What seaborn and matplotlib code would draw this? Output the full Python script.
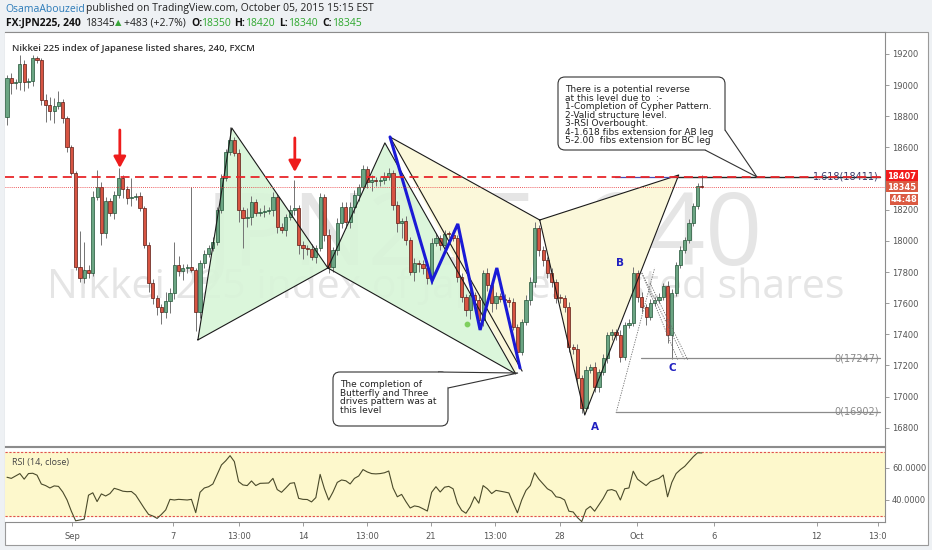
import numpy as np
import pandas as pd
import matplotlib
matplotlib.use("Agg")
import matplotlib.pyplot as plt
import seaborn as sns
from matplotlib.patches import FancyBboxPatch, Polygon, Rectangle

sns.set_theme(style="white")
plt.rcParams['font.family'] = ['DejaVu Sans']

W, H = 932, 550

# 4h candles, Aug 27 - Oct 5 2015
FIRST_OPEN = 18796
closes = [
    19046, 19014, 19020, 19136, 19020, 19027, 19174, 19161, 18905, 18873,
    18834, 18866, 18892, 18789, 18603, 18436, 17833, 17762, 17813, 17794,
    18282, 18346, 18051, 18256, 18179, 18295, 18404, 18333, 18276, 18280,
    18290, 18211, 17974, 17730, 17634, 17576, 17544, 17614, 17666, 17845,
    17807, 17826, 17833, 17813, 17544, 17858, 17916, 17955, 17993, 18198,
    18404, 18571, 18648, 18564, 18198, 18147, 18154, 18250, 18179, 18186,
    18192, 18200, 18282, 18089, 18070, 18154, 18198, 18211, 17974, 17955,
    17948, 17897, 17955, 18282, 18038, 17833, 17942, 18115, 18218, 18121,
    18218, 18295, 18346, 18462, 18378, 18391, 18385, 18388, 18410, 18436,
    18231, 18115, 18128, 18006, 17800, 17858, 17850, 17826, 17762, 17987,
    18019, 17974, 18044, 18040, 18019, 17768, 17640, 17557, 17653, 17621,
    17492, 17794, 17717, 17601, 17646, 17627, 17621, 17608, 17447, 17287,
    17479, 17621, 17736, 18083, 17942, 17878, 17794, 17736, 17634, 17630,
    17576, 17319, 17306, 17120, 16927, 17171, 17190, 17062, 17158, 17248,
    17396, 17412, 17396, 17255, 17460, 17473, 17794, 17640, 17576, 17512,
    17601, 17621, 17640, 17711, 17396, 17666, 17845, 17942, 18006, 18115,
    18224, 18350, 18345,
]
wick_up = [
    20, 30, 20, 60, 25, 20, 20, 15, 15, 40,
    50, 50, 70, 20, 15, 10, 10, 230, 180, 30,
    40, 110, 30, 25, 20, 25, 65, 20, 20, 124,
    20, 25, 10, 20, 25, 20, 20, 60, 30, 150,
    60, 25, 20, 510, 10, 20, 25, 20, 30, 20,
    25, 20, 80, 20, 25, 20, 60, 40, 20, 25,
    40, 20, 30, 20, 25, 20, 30, 180, 20, 25,
    20, 30, 20, 25, 20, 35, 20, 30, 30, 30,
    30, 30, 20, 25, 20, 30, 20, 25, 30, 30,
    20, 25, 20, 30, 20, 35, 20, 25, 20, 30,
    30, 20, 25, 20, 30, 20, 25, 20, 40, 20,
    25, 20, 30, 20, 25, 20, 30, 20, 25, 20,
    20, 30, 30, 40, 20, 25, 20, 30, 20, 25,
    20, 30, 20, 30, 20, 25, 20, 30, 20, 25,
    20, 25, 20, 30, 20, 25, 40, 20, 30, 20,
    25, 20, 25, 20, 30, 25, 20, 25, 20, 25,
    20, 20, 70,
]
wick_dn = [
    50, 70, 40, 50, 60, 40, 30, 20, 30, 110,
    60, 80, 20, 30, 30, 15, 20, 25, 30, 30,
    20, 20, 75, 30, 20, 40, 20, 60, 40, 50,
    20, 20, 20, 60, 40, 50, 80, 40, 80, 40,
    30, 60, 30, 10, 120, 40, 30, 20, 20, 20,
    20, 20, 20, 20, 80, 190, 60, 50, 20, 20,
    30, 20, 40, 40, 20, 40, 20, 30, 60, 70,
    40, 20, 40, 20, 40, 40, 30, 30, 30, 40,
    40, 40, 40, 20, 40, 60, 30, 30, 20, 20,
    30, 60, 96, 30, 20, 60, 50, 40, 40, 40,
    20, 30, 40, 20, 20, 30, 30, 40, 60, 30,
    40, 40, 40, 60, 40, 20, 20, 30, 20, 70,
    20, 20, 30, 30, 40, 40, 30, 30, 30, 30,
    30, 30, 30, 30, 30, 20, 20, 30, 30, 20,
    30, 30, 30, 30, 20, 20, 20, 30, 30, 50,
    20, 20, 20, 20, 50, 154, 20, 20, 20, 20,
    20, 20, 5,
]
rsi = [
    54.2, 53.5, 55.0, 56.5, 53.0, 56.5, 56.7, 55.5, 50.0, 49.0,
    47.5, 48.8, 48.5, 45.0, 40.0, 33.0, 27.0, 27.5, 28.0, 43.0,
    44.5, 39.0, 43.8, 42.5, 44.0, 47.3, 46.5, 45.5, 45.2, 45.3,
    43.1, 39.0, 34.8, 31.0, 30.0, 28.5, 31.0, 33.8, 40.4, 40.0,
    40.4, 40.2, 40.0, 40.4, 32.1, 44.8, 47.5, 48.3, 50.0, 56.0,
    61.9, 64.5, 67.7, 64.0, 51.5, 49.4, 49.0, 51.9, 49.0, 50.4,
    50.5, 50.6, 53.5, 46.5, 44.8, 47.5, 50.4, 50.8, 41.0, 40.4,
    40.3, 38.8, 41.5, 56.0, 47.0, 40.0, 45.0, 51.0, 52.5, 52.0,
    50.0, 53.5, 55.0, 59.0, 57.5, 56.5, 56.3, 56.5, 57.0, 58.1,
    47.5, 42.0, 43.5, 39.0, 35.0, 36.3, 35.8, 34.5, 33.1, 44.8,
    48.3, 45.0, 48.0, 48.5, 47.0, 38.0, 33.5, 31.7, 35.8, 42.0,
    38.0, 49.0, 47.0, 44.0, 46.0, 45.5, 45.0, 44.4, 38.0, 32.0,
    40.0, 46.0, 49.0, 57.0, 53.0, 50.0, 47.0, 45.5, 42.0, 41.5,
    40.0, 33.0, 32.5, 29.0, 26.5, 34.0, 36.0, 33.0, 37.0, 41.0,
    46.0, 46.5, 45.5, 40.0, 47.0, 47.5, 58.0, 53.0, 51.0, 49.0,
    51.5, 52.5, 53.5, 55.6, 42.0, 51.0, 56.5, 59.0, 61.0, 64.0,
    67.0, 69.5, 69.4,
]

time_ticks = [15.2, 38.7, 54.0, 69.0, 83.9, 98.8, 113.7, 128.9, 146.9, 164.8, 188.8, 203.0]
time_labels = ["Sep", "7", "13:00", "14", "13:00", "21", "13:00", "28", "Oct", "6", "12", "13:0"]
# 18400 sits under the price tags, so it is left out
price_ticks = [16800, 17000, 17200, 17400, 17600, 17800, 18000, 18200, 18600, 18800, 19000, 19200]

# drawn pattern points (bar index, price)
bfly_i = [44.5, 52.4, 74.8, 88.1, 118.6]
bfly_p = [17364, 18725, 17826, 18629, 17146]
drives_i = [89.3, 99.1, 105.1, 110.3, 114.2, 119.6]
drives_p = [18667, 17743, 18109, 17428, 17826, 17184]
cypher_i = [124.2, 156.6, 134.7]
cypher_p = [18134, 18423, 16882]
RES_LEVEL = 18407
LAST_CLOSE = 18345

assert len(closes) == len(wick_up) == len(wick_dn) == len(rsi)

idx = np.arange(len(closes))
df = pd.DataFrame({"i": idx, "open": [FIRST_OPEN] + closes[:-1], "close": closes,
                   "up": wick_up, "dn": wick_dn, "rsi": rsi})
df["high"] = df[["open", "close"]].max(axis=1) + df["up"]
df["low"] = df[["open", "close"]].min(axis=1) - df["dn"]
rising = df["close"] >= df["open"]

fig = plt.figure(figsize=(W / 100, H / 100), dpi=100)
fig.patch.set_facecolor("#eef1f4")


def fx(x):
    return x / W


def fy(y):
    return 1 - y / H


def inch(x, y):
    return (x / 100.0, (H - y) / 100.0)


# outer frame
fig.add_artist(Rectangle((fx(5), fy(545)), fx(923), 513 / H, transform=fig.transFigure,
                         facecolor="white", edgecolor="#9a9a9a", lw=0.8, zorder=-1))

ax = fig.add_axes([fx(5), fy(446), fx(880), 414 / H])
ax_r = fig.add_axes([fx(5), fy(522), fx(880), 75 / H])
XMIN, XMAX = -0.47, 204.7
ax.set_xlim(XMIN, XMAX)
ax.set_ylim(16683, 19341)
ax_r.set_xlim(XMIN, XMAX)
ax_r.set_ylim(26.25, 73.1)

for a in (ax, ax_r):
    a.set_facecolor("white")
    for s in a.spines.values():
        s.set_color("#8c8c8c")
        s.set_linewidth(0.8)
    a.spines["left"].set_visible(False)

# watermark
ax.text(0.5455, 0.50, "JPN225, 240", transform=ax.transAxes, ha="center", va="center",
        fontsize=72, color="#dadada", alpha=0.7, family="Open Sans", zorder=0)
ax.text(0.501, 0.382, "Nikkei 225 index of Japanese listed shares", transform=ax.transAxes,
        ha="center", va="center", fontsize=29.5, color="#dadada", alpha=0.7,
        family="Open Sans", zorder=0)

# pattern fills
green = "#d8f5d8"
yellow = "#fbf8da"
ax.add_patch(Polygon(list(zip(bfly_i[:3], bfly_p[:3])), closed=True, facecolor=green, edgecolor="none", zorder=1, alpha=0.9))
ax.add_patch(Polygon(list(zip(bfly_i[2:], bfly_p[2:])), closed=True, facecolor=green, edgecolor="none", zorder=1, alpha=0.9))
ax.add_patch(Polygon([(drives_i[0], drives_p[0]), (cypher_i[0], cypher_p[0]), (bfly_i[4], bfly_p[4])],
                     closed=True, facecolor=yellow, edgecolor="none", zorder=1))
ax.add_patch(Polygon(list(zip(cypher_i, cypher_p)), closed=True, facecolor=yellow, edgecolor="none", zorder=1))

# candles
ax.vlines(df["i"], df["low"], df["high"], color="#737373", lw=0.7, zorder=3)
body = (df["close"] - df["open"]).where((df["close"] - df["open"]).abs() >= 5, 5)
ax.bar(df["i"], body, bottom=df["open"], width=0.74,
       color=np.where(rising, "#6ba583", "#d75442"),
       edgecolor=np.where(rising, "#225437", "#5b1a13"), linewidth=0.5, zorder=4)

# pattern outlines
lk = dict(color="#1a1a1a", lw=0.8, zorder=5)
ax.plot(bfly_i[:3] + [bfly_i[0]], bfly_p[:3] + [bfly_p[0]], **lk)
ax.plot(bfly_i[2:] + [bfly_i[2]], bfly_p[2:] + [bfly_p[2]], **lk)
ax.plot([drives_i[0], drives_i[-1] + 0.5], [drives_p[0], drives_p[-1] - 20], **lk)
ax.plot([drives_i[0], cypher_i[0]], [drives_p[0], cypher_p[0]], **lk)
ax.plot(cypher_i + [cypher_i[0]], cypher_p + [cypher_p[0]], **lk)
ax.plot(drives_i, drives_p, color="#1a1ad6", lw=2.2, zorder=6, solid_joinstyle="miter")
ax.scatter([107.2], [17467], s=10, color="#7fcf5f", zorder=6)

# fib projection
dk = dict(color="#6d6d6d", lw=0.6, ls=(0, (1.5, 1.5)), zorder=5)
ax.plot([142.0, 151.0], [16895, 17826], **dk)
ax.plot([148.0, 156.4], [17794, 17236], **dk)
ax.plot([148.0, 158.0], [17794, 17236], **dk)
ax.plot([149.9, 158.7], [17730, 17236], **dk)
ax.plot([147.8, 203.5], [17247, 17247], color="#8a8a8a", lw=0.9, zorder=5)
ax.plot([142.0, 203.5], [16902, 16902], color="#8a8a8a", lw=0.9, zorder=5)
ax.plot([141.7, 156.0], [18411, 18411], color="#4a4ab0", lw=0.9, zorder=5)
ax.plot([156.0, 203.5], [18411, 18411], color="#222222", lw=1.0, zorder=5)
ax.text(203.3, 17247, "0(17247)", ha="right", va="center", fontsize=7, color="#8a8a8a", zorder=6)
ax.text(203.3, 16902, "0(16902)", ha="right", va="center", fontsize=7, color="#8a8a8a", zorder=6)
ax.text(203.3, 18411, "1.618(18411)", ha="right", va="center", fontsize=7, color="#3a3a6a", zorder=6)
for lab, li, lp in [("A", 137.1, 16805), ("B", 142.9, 17858), ("C", 155.0, 17184)]:
    ax.text(li, lp, lab, ha="center", va="center", fontsize=7.5, color="#2020c0", fontweight="bold", zorder=7)

# resistance lines
ax.axhline(RES_LEVEL, color="#e8262a", lw=1.3, ls=(0, (5, 3)), zorder=6)
ax.axhline(LAST_CLOSE, color="#e8262a", lw=0.6, ls=(0, (1, 1.5)), zorder=6)

# red arrows
for ai, p0, p1 in [(26.3, 18712, 18468), (67.1, 18661, 18442)]:
    ax.annotate("", xy=(ai, p1), xytext=(ai, p0),
                arrowprops=dict(arrowstyle="-|>,head_width=0.3,head_length=0.55",
                                color="#ee1c1c", lw=2.0, shrinkA=0, shrinkB=0), zorder=8)

ax.set_xticks([])
ax.yaxis.tick_right()
ax.set_yticks(price_ticks)
ax.set_yticklabels([str(v) for v in price_ticks])
ax.tick_params(axis="y", which="both", right=True, left=False, length=3, width=0.6,
               color="#8c8c8c", labelsize=6, labelcolor="#555555", pad=2)

ax.text(0.008, 0.97, "Nikkei 225 index of Japanese listed shares, 240, FXCM",
        transform=ax.transAxes, ha="left", va="top", fontsize=6.8, color="#333333",
        family="Open Sans", fontweight="semibold", zorder=9)

# RSI panel
ax_r.axhspan(30, 70, color="#fdf8cc", zorder=0)
ax_r.axhline(70, color="#e05050", lw=0.8, ls=(0, (2, 1.5)), zorder=1)
ax_r.axhline(30, color="#e05050", lw=0.8, ls=(0, (2, 1.5)), zorder=1)
sns.lineplot(data=df, x="i", y="rsi", ax=ax_r, color="#4a4a2a", lw=0.8, zorder=3, legend=False)
ax_r.set_xlabel("")
ax_r.set_ylabel("")
ax_r.yaxis.tick_right()
ax_r.set_yticks([40, 60])
ax_r.set_yticklabels(["40.0000", "60.0000"])
ax_r.tick_params(axis="y", right=True, left=False, length=3, width=0.6, color="#8c8c8c",
                 labelsize=6, labelcolor="#555555", pad=2)
ax_r.set_xticks(time_ticks)
ax_r.set_xticklabels(time_labels)
ax_r.tick_params(axis="x", bottom=True, length=3, width=0.6, color="#8c8c8c",
                 labelsize=6, labelcolor="#555555", pad=4)
ax_r.text(0.008, 0.86, "RSI (14, close)", transform=ax_r.transAxes, ha="left", va="top",
          fontsize=6.5, color="#444444", family="Open Sans")

# price tags
for y0, y1, x0, col, txt in [(170, 182, 886, "#f21c1c", "18407"),
                             (181, 192, 886, "#db5a42", "18345"),
                             (194, 205, 890, "#db5a42", "44:48")]:
    fig.add_artist(Rectangle(inch(x0, y1), (918 - x0) / 100, (y1 - y0) / 100,
                             transform=fig.dpi_scale_trans, facecolor=col, edgecolor="none", zorder=10))
    fig.text(*inch((x0 + 918) / 2, (y0 + y1) / 2 + 0.5), txt, transform=fig.dpi_scale_trans,
             ha="center", va="center", fontsize=6, color="white", fontweight="bold", zorder=11)


# callouts
def callout(x0, y0, x1, y1, base1, base2, tip, text, size):
    fig.add_artist(FancyBboxPatch(inch(x0, y1), (x1 - x0) / 100, (y1 - y0) / 100,
                                  boxstyle="round,pad=0,rounding_size=0.07",
                                  transform=fig.dpi_scale_trans, facecolor="white",
                                  edgecolor="#333333", lw=0.8, zorder=12))
    fig.add_artist(Polygon([inch(*base1), inch(*tip), inch(*base2)], closed=False,
                           transform=fig.dpi_scale_trans, facecolor="white",
                           edgecolor="#333333", lw=0.8, zorder=13))
    fig.text(*inch(x0 + 7, y0 + 8), text, transform=fig.dpi_scale_trans, ha="left", va="top",
             fontsize=size, color="#222222", linespacing=0.93, family="DejaVu Sans", zorder=14)


callout(558, 77, 725, 150, (705, 150), (725, 130), (757, 177),
        "There is a potential reverse\nat this level due to  :-\n1-Completion of Cypher Pattern.\n"
        "2-Valid structure level.\n3-RSI Overbought.\n4-1.618 fibs extension for AB leg\n"
        "5-2.00  fibs extension for BC leg", 6.5)
callout(333, 372, 448, 426, (438, 372), (448, 388), (518, 373),
        "The completion of\nButterfly and Three\ndrives pattern was at\nthis level", 6.5)

# header
hf = dict(transform=fig.dpi_scale_trans, va="center", ha="left", fontsize=7.5, family="Open Sans")
fig.text(*inch(5, 9), "OsamaAbouzeid", color="#2a7ab8", **hf)
fig.text(*inch(86, 9), "published on TradingView.com, October 05, 2015 15:15 EST", color="#222222", **hf)
fig.text(*inch(6, 23), "FX:JPN225, 240", color="#111111", fontweight="bold", **hf)
fig.text(*inch(85, 23), "18345", color="#222222", **hf)
fig.text(*inch(115, 23), "\u25b2", color="#3aa63a", transform=fig.dpi_scale_trans, va="center",
         ha="left", fontsize=6, family="DejaVu Sans")
fig.text(*inch(124, 23), "+483 (+2.7%)", color="#222222", **hf)
for lx, lab, vx, val in [(191, "O:", 201, "18350"), (234, "H:", 245, "18420"),
                         (279, "L:", 288, "18340"), (322, "C:", 332, "18345")]:
    fig.text(*inch(lx, 23), lab, color="#111111", fontweight="bold", **hf)
    fig.text(*inch(vx, 23), val, color="#2ea82e", **hf)

fig.savefig("out.png", dpi=100, facecolor=fig.get_facecolor())
